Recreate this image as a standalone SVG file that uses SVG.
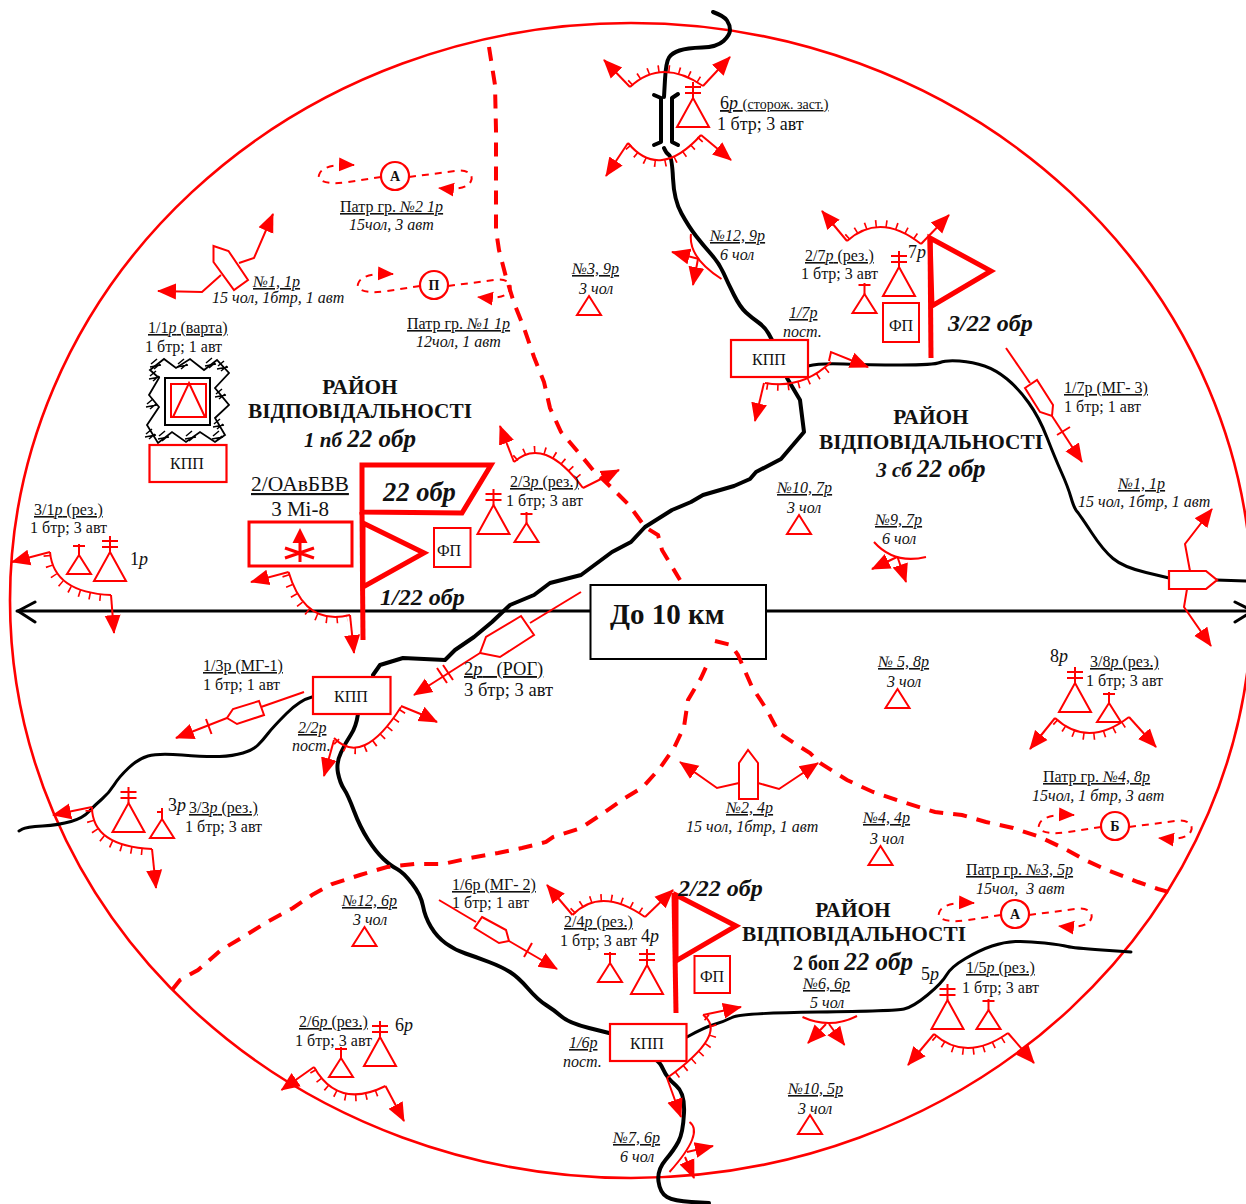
<svg xmlns="http://www.w3.org/2000/svg" width="1246" height="1204" viewBox="0 0 1246 1204">
<style>
text{font-family:"Liberation Serif","Times New Roman",serif;font-size:16px;fill:#111}
.i{font-style:italic}
.u{text-decoration:underline}
.l{font-size:18px}
.h{font-weight:bold;font-size:21.3px}
.b{font-weight:bold;font-style:italic;font-size:24px}
.m{text-anchor:middle}
.s{fill:none;stroke:#f00;stroke-width:2;stroke-linejoin:miter}
.w{fill:#fff;stroke:#f00;stroke-width:2.2}
.a{fill:none;stroke:#f00;stroke-width:2;marker-end:url(#ah)}
.f{fill:none;stroke:#f00;stroke-width:5;stroke-linejoin:miter}
.d{fill:none;stroke:#f00;stroke-width:4;stroke-dasharray:14 10}
.dp{fill:none;stroke:#f00;stroke-width:2;stroke-dasharray:7 6;marker-end:url(#ap)}
.t{fill:none;stroke:#f00;stroke-width:7;stroke-dasharray:1.6 9}
.r{fill:none;stroke:#000;stroke-width:3;stroke-linejoin:round;stroke-linecap:round}
.R{fill:none;stroke:#000;stroke-width:4;stroke-linejoin:round;stroke-linecap:round}
.k{fill:none;stroke:#000;stroke-width:2}
.pl{font-weight:bold;font-size:14px;text-anchor:middle}
</style>
<defs>
<marker id="ah" markerUnits="userSpaceOnUse" markerWidth="20" markerHeight="18" refX="18" refY="9" orient="auto"><polygon points="0,1 19,9 0,17" fill="#f00"/></marker>
<marker id="ap" markerUnits="userSpaceOnUse" markerWidth="17" markerHeight="16" refX="15" refY="8" orient="auto"><polygon points="0,1 16,8 0,15" fill="#f00"/></marker>
<g id="tb"><polygon class="s" points="0,0 16,29 -16,29"/><path class="s" d="M0,0V-16M-8,-11H8M-8,-5H8"/></g>
<g id="ts"><polygon class="s" points="0,0 12,19 -12,19"/><path class="s" d="M0,0V-11M-6,-9H6"/></g>
<polygon id="tri" class="s" points="0,0 12,19 -12,19"/>
<g id="patrol"><circle class="w" r="14"/><path class="dp" d="M-14,1L-47,6C-65,9 -78,6 -76,-1C-74,-8 -65,-12 -41,-11"/><path class="dp" d="M14,1L60,-5C72,-7 79,-2 76,5C73,12 62,14 44,12"/></g>
<path id="wt" class="k" d="M-5,-1L1,-6M-2,4L4,-1M-6,2L5,0" style="stroke-width:1.5"/>
</defs>
<ellipse cx="631" cy="600.5" rx="621" ry="577.5" fill="none" stroke="#f00" stroke-width="2.6"/>
<g id="connectors">
<path class="r" d="M17,611H590M766,611H1246"/>
<path class="r" d="M35,602L18,611L35,622M1235,602L1253,611L1235,622"/>
<path class="R" d="M713,12Q724,16 727,20.500T730,30T723.500,41T702,47.500T679.500,50.500T669,57.500T665,79.500L664,97"/>
<path class="R" d="M654,95L661,98V142L654,145M678,94L672,98V142L678,145"/>
<path class="R" d="M664,148Q666,153 669,155T673,178.500T681.500,213.500T696,236T711,254T723.500,273T734,295T746,312.500T758.500,322.500T768.500,333.500L772,340"/>
<path class="R" d="M787,378L800,400L804,432L781,459L756,472L750,479L734,486L703,495L691,502L672,510L645,527L631,542L612,552L581,575L550,583L534,595L510,605L492,622L474,637L455,650L445,660L403,658L380,665L373,675"/>
<path class="r" d="M312,697Q300,700 286.500,713.500T268,733.500T258,745T243,753T219.500,756.500T182,755T148,756T128.500,768T114,785T102,799T89,811.500T71,821.500T42.500,826T22.500,829L19,831"/>
<path class="R" d="M358,714Q356,727 351,734.500T341,752.500T338,773T344,789T354,811T368,839.500T383.500,859T397,869T412,883.500T423,906T431,927T446,943.500T465.500,953.500T489,962T510,972T528,988.500T546,1005T561.500,1016.500T589,1028L609,1033"/>
<path class="r" d="M687,1037Q705,1027 714,1024.500T732,1017.500T818,1012T904,1009T927.500,995T946.500,975T965.500,958.500T992,946T1015.500,941.500T1044.500,943T1067.500,946.500T1102,950L1131,952"/>
<path class="R" d="M655,1059Q660,1062 663.500,1070T676,1085.500T684,1113T678.500,1141.500T665.500,1160T658.500,1181.500T667,1197T691.500,1202L709,1203"/>
<path class="r" d="M808,366Q820,363 844,364T901,365T940,362.500T959.500,361T984.500,366T1007,379T1028.500,402.500T1047,437.500T1061.500,472.500T1071,497.500T1077,511.500T1091.500,532.500T1113,558.500T1146,572.500L1169,578M1216,580L1246,581"/>
<path class="d" d="M489,47L495,85L496,130V230L499,250L506,277L514,303L524,328L534,357L544,382L550,408L561,432L579,453L593,470L612,488L629,505L645,527L658,535L662,550L680,580"/>
<path class="d" d="M172,990L180,980L198,970L221,950L243,937L267,922L293,908L312,895L332,884L360,875L387,867L415,864L443,864L470,858L498,853L522,848L546,842L553,837L581,828L605,812L625,798L643,787L660,768L674,748L684,727L688,700L701,678L713,652L715,641"/>
</g>
<g id="box"><rect x="590.500" y="585" width="175.500" height="74" fill="#fff" stroke="#000" stroke-width="2"/><text x="610" y="624" style="font-size:29px;font-weight:bold">До 10 км</text></g>
<path class="d" d="M715,641L731,645L738,655L752,687L767,710L779,733L794,743L810,753L820,763L847,780L873,792L906,803L935,812L962,815L986,822L1013,828L1040,837L1067,850L1085,860L1107,870L1138,882L1158,889L1169,892"/>

<g id="pat-a1"><use href="#patrol" x="395" y="176"/><text class="pl" x="395" y="181">А</text><text class="u" x="340" y="212">Патр гр. <tspan class="i">№2 1р</tspan></text><text class="i" x="349" y="230">15чол, 3 авт</text></g>
<g id="pat-p"><use href="#patrol" x="434" y="285"/><text class="pl" x="434" y="290">П</text><text class="u" x="407" y="329">Патр гр. <tspan class="i">№1 1р</tspan></text><text class="i" x="416" y="347">12чол, 1 авт</text></g>
<g id="pat-b"><use href="#patrol" x="1115" y="826"/><text class="pl" x="1115" y="831">Б</text><text class="u" x="1043" y="782">Патр гр. <tspan class="i">№4, 8р</tspan></text><text class="i" x="1032" y="801">15чол, 1 бтр, 3 авт</text></g>
<g id="pat-a2"><use href="#patrol" x="1015" y="914"/><text class="pl" x="1015" y="919">А</text><text class="u" x="966" y="875">Патр гр. <tspan class="i">№3, 5р</tspan></text><text class="i" x="976" y="894" xml:space="preserve">15чол,  3 авт</text></g>

<g id="bridge-6r">
<path class="s" d="M630,87Q661.500,57.500 703,86"/><path class="t" transform="translate(0,-3.500)" d="M630,87Q661.500,57.500 703,86"/>
<path class="s" d="M628,143Q659.500,181 701,135"/><path class="t" transform="translate(0,3.500)" d="M628,143Q659.500,181 701,135"/>
<path class="a" d="M630,87L604,60"/><path class="a" d="M703,86L730,57"/><path class="a" d="M628,143L606,176"/><path class="a" d="M701,135L731,160"/>
<use href="#tb" x="693" y="98"/>
<text class="u l" x="720" y="109">6<tspan class="i">р</tspan> <tspan style="font-size:15px">(</tspan><tspan style="font-size:14px">сторож. заст.</tspan><tspan style="font-size:15px">)</tspan></text><text class="l" x="717" y="130">1 бтр; 3 авт</text>
</g>
<g id="post-1-1r"><polygon class="s" points="213.500,246 228.500,251 248,280 234,290 213.500,262"/><path class="a" d="M239,263L254,258L273,214"/><path class="a" d="M221,275L202,292L158,291"/><text class="i u" x="253" y="287">№1, 1р</text><text class="i" x="212" y="303">15 чол, 1бтр, 1 авт</text></g>
<g id="guard-1-1r">
<text class="u" x="148" y="333"> 1/1<tspan class="i">р</tspan> (варта)</text><text x="145" y="352">1 бтр; 1 авт</text>
<path class="k" style="stroke-width:1.8" d="M150,370L164,359L176,368L190,359L204,370L217,360L229,373L215,388L229,405L215,418L225,435L215,442L200,432L186,442L172,432L158,443L147,425L159,407L149,395L159,378Z"/>
<use href="#wt" x="156" y="365"/><use href="#wt" x="183" y="365"/><use href="#wt" x="211" y="364"/><use href="#wt" x="223" y="367"/><use href="#wt" x="155" y="377"/><use href="#wt" x="152" y="405"/><use href="#wt" x="221" y="395"/><use href="#wt" x="219" y="425"/><use href="#wt" x="151" y="435"/><use href="#wt" x="164" y="437"/><use href="#wt" x="191" y="437"/><use href="#wt" x="218" y="437"/>
<rect x="165" y="378" width="45" height="47" class="k"/><rect x="171" y="384" width="35" height="33" class="s"/><polygon class="s" points="189,383 205,417 173,417"/>
</g>
<g id="kpp-1r"><rect class="w" x="149.500" y="445" width="77" height="37"/><text class="m" x="187" y="469">КПП</text></g>
<g id="area-1"><text class="h m" x="360" y="394">РАЙОН</text><text class="h m" x="360" y="418">ВІДПОВІДАЛЬНОСТІ</text><text class="m" x="360" y="447" style="font-weight:bold;font-style:italic;font-size:21px">1 пб <tspan style="font-size:25px">22 обр</tspan></text></g>
<g id="heli"><text class="u" x="251" y="491" style="font-size:21.5px">2/ОАвБВВ</text><text class="m" x="300" y="516" style="font-size:21px">3 Mi-8</text><rect x="249" y="522" width="103" height="44" fill="none" stroke="#f00" stroke-width="3"/><polygon points="300,528 307.500,543 292.500,543" fill="#f00"/><path d="M300,543V562M285,548L314,558M285,558L314,548" fill="none" stroke="#f00" stroke-width="3"/></g>
<g id="hq-22"><polygon class="f" points="362,465 491,465 462,513 362,512"/><text class="b" x="383" y="501" style="font-size:26.500px">22 обр</text></g>
<g id="flag-1-22"><path class="f" d="M362,512L363,640"/><polygon class="f" points="363,523 424,553 363,587"/><text class="b" x="380" y="605">1/22 обр</text><rect class="s" x="434" y="528" width="36.500" height="39"/><text class="m" x="449" y="556">ФП</text></g>
<g id="sector-oav"><path class="s" d="M288.600,572Q304.700,626.500 350,615"/><path class="t" transform="translate(-3,3)" d="M288.600,572Q304.700,626.500 350,615"/><path class="a" d="M288.600,572L251,582"/><path class="a" d="M350,615L354,653"/></g>
<g id="res-2-3r"><path class="s" d="M514,462Q543.500,435 583,488"/><path class="t" transform="translate(1,-3.500)" d="M514,462Q543.500,435 583,488"/><path class="a" d="M514,462L500,426"/><path class="a" d="M583,488L605,477L619,470"/><use href="#tb" x="493.500" y="505"/><use href="#ts" x="526.500" y="523"/><text class="u" x="510" y="487">2/3<tspan class="i">р</tspan> (рез.)</text><text x="506" y="506">1 бтр; 3 авт</text></g>
<g id="res-3-1r"><path class="s" d="M50,552Q53.500,592.500 111,595"/><path class="t" transform="translate(-3,3)" d="M50,552Q53.500,592.500 111,595"/><path class="a" d="M50,552L12,562"/><path class="a" d="M111,595L114,633"/><use href="#ts" x="79" y="555"/><use href="#tb" x="110" y="552"/><text class="l" x="130" y="565">1<tspan class="i">р</tspan></text><text class="u" x="34" y="515">3/1<tspan class="i">р</tspan> (рез.)</text><text x="30" y="533">1 бтр; 3 авт</text></g>
<g id="kpp-3r"><rect class="w" x="313" y="677" width="77.500" height="37"/><text class="m" x="351" y="702">КПП</text><path class="s" d="M334,738Q362.500,767.500 401,707"/><path class="t" transform="translate(2,3)" d="M334,738Q362.500,767.500 401,707"/><path class="a" d="M401,706L423,715L437,722"/><path class="a" d="M334,740L324,776"/><text class="i u" x="298" y="733">2/2р</text><text class="i" x="292" y="751">пост.</text></g>
<g id="mg-1"><text class="u" x="203" y="671">1/3р (МГ-1)</text><text x="203" y="690">1 бтр; 1 авт</text><path class="s" d="M304,692L261,707"/><polygon class="s" points="259,701 264,715 237,724 227,718 233,709"/><path class="a" d="M227,718L176,738"/><path class="s" d="M206,719L211.500,734"/></g>
<g id="rog-2r"><path class="s" d="M581,592L530,623"/><polygon class="s" points="521,616 534,635 500,657 480,653 486,637"/><path class="a" d="M480,653L414,695"/><path class="s" d="M437,668L447,683M443,665L453,680"/><text class="u" x="464" y="675" style="font-size:18.500px" xml:space="preserve">2<tspan class="i">р</tspan>   (РОГ)</text><text x="464" y="696" style="font-size:18.500px">3 бтр; 3 авт</text></g>
<g id="res-3-3r"><path class="s" d="M92,807Q92,846 152,849"/><path class="t" transform="translate(-3,3)" d="M92,807Q92,846 152,849"/><path class="a" d="M92,807L53,815"/><path class="a" d="M152,849L156,888"/><use href="#tb" x="128.500" y="803"/><polygon class="s" points="162,819 174,838 150,838"/><path class="s" d="M162,819V808M157,812H162"/><text class="l" x="168" y="811">3<tspan class="i">р</tspan></text><text class="u" x="189" y="813">3/3<tspan class="i">р</tspan> (рез.)</text><text x="185" y="832">1 бтр; 3 авт</text></g>
<g id="o12-6r"><text class="i u" x="342" y="906">№12, 6р</text><text class="i m" x="370" y="925">3 чол</text><use href="#tri" x="364.500" y="927"/></g>
<g id="mg-2"><text class="u" x="452" y="890">1/6р (МГ- 2)</text><text x="452" y="908">1 бтр; 1 авт</text><path class="s" d="M439,900L476,922"/><polygon class="s" points="482,917 506,930 509,941 499,943 474.500,928"/><path class="a" d="M509,941L557,969"/><path class="s" d="M532,943L524,957"/></g>
<g id="res-2-6r"><path class="s" d="M314,1067Q338,1109.500 385.500,1086"/><path class="t" transform="translate(-1,3.500)" d="M314,1067Q338,1109.500 385.500,1086"/><path class="a" d="M314,1067L281.500,1090"/><path class="a" d="M385.500,1086L404,1121"/><use href="#tb" x="380" y="1037"/><use href="#ts" x="341" y="1058"/><text class="u" x="299" y="1027">2/6<tspan class="i">р</tspan> (рез.)</text><text x="295" y="1046">1 бтр; 3 авт</text><text class="l" x="395" y="1031">6<tspan class="i">р</tspan></text></g>
<g id="post-2-4r"><polygon class="s" points="739,763 748,750 758,763 758,799 739,799"/><path class="a" d="M739,783L717,788L680,762"/><path class="a" d="M758,783L779,789L818,763"/><text class="i u" x="726" y="813">№2, 4р</text><text class="i" x="686" y="832">15 чол, 1бтр, 1 авт</text></g>
<g id="o4-4r"><text class="i u" x="863" y="823">№4, 4р</text><text class="i" x="870" y="844">3 чол</text><use href="#tri" x="880.500" y="846"/></g>
<g id="flag-2-22"><path class="f" d="M674,893L676,1013"/><polygon class="f" points="676,895 736,926 676,961"/><text class="b" x="678" y="896">2/22 обр</text><rect class="s" x="694.500" y="956" width="35.500" height="37"/><text class="m" x="712" y="982">ФП</text></g>
<g id="res-2-4r"><path class="s" d="M572.500,915Q601,886 645,917"/><path class="t" transform="translate(0,-3.500)" d="M572.500,915Q601,886 645,917"/><path class="a" d="M572.500,915L547,885"/><path class="a" d="M645,917L673,890"/><text class="u" x="564" y="927">2/4<tspan class="i">р</tspan> (рез.)</text><text x="560" y="946">1 бтр; 3 авт</text><text class="l" x="641" y="942">4<tspan class="i">р</tspan></text><use href="#ts" x="610" y="963"/><use href="#tb" x="647" y="965"/></g>
<g id="area-2"><text class="h m" x="853" y="917">РАЙОН</text><text class="h m" x="854" y="941">ВІДПОВІДАЛЬНОСТІ</text><text x="793" y="970" style="font-weight:bold;font-size:20px">2 боп <tspan class="i" style="font-size:25px">22 обр</tspan></text></g>
<g id="kpp-6r"><rect class="w" x="610" y="1024" width="76.500" height="37"/><text class="m" x="647" y="1049">КПП</text><path class="s" d="M703,1015Q729,1033.500 667,1078"/><path class="t" transform="translate(3,2)" d="M703,1015Q729,1033.500 667,1078"/><path class="a" d="M703,1015L741,1007"/><path class="a" d="M667,1078L681,1117"/><text class="i u" x="569" y="1048">1/6р</text><text class="i" x="563" y="1067">пост.</text></g>
<g id="o7-6r"><path class="s" d="M689.500,1122Q704.500,1133 669.500,1172"/><path class="a" d="M687,1152L713,1146"/><path class="a" d="M685,1157L694,1178"/><text class="i u" x="613" y="1143">№7, 6р</text><text class="i" x="620" y="1162">6 чол</text></g>
<g id="o10-5r"><text class="i u" x="788" y="1094">№10, 5р</text><text class="i" x="798" y="1114">3 чол</text><use href="#tri" x="810" y="1115"/></g>
<g id="o6-6r"><path class="s" d="M802.500,1017Q830,1029.500 857,1016"/><path class="a" d="M826,1024L808,1043"/><path class="a" d="M829,1024L844.500,1045"/><text class="i u" x="803" y="989">№6, 6р</text><text class="i" x="810" y="1008">5 чол</text></g>
<g id="res-1-5r"><path class="s" d="M934,1034Q966,1062.500 1008,1033"/><path class="t" transform="translate(0,3.500)" d="M934,1034Q966,1062.500 1008,1033"/><path class="a" d="M934,1034L908,1065"/><path class="a" d="M1008,1033L1034,1063"/><use href="#tb" x="947.500" y="1000"/><use href="#ts" x="988.500" y="1010"/><text class="l" x="921" y="980">5<tspan class="i">р</tspan></text><text class="u" x="966" y="973">1/5<tspan class="i">р</tspan> (рез.)</text><text x="962" y="993">1 бтр; 3 авт</text></g>
<g id="res-3-8r"><path class="s" d="M1055,718Q1088,748.500 1129,717"/><path class="t" transform="translate(0,3.500)" d="M1055,718Q1088,748.500 1129,717"/><path class="a" d="M1055,718L1030,749"/><path class="a" d="M1129,717L1156,747"/><use href="#tb" x="1075" y="683"/><use href="#ts" x="1109" y="703"/><text class="l" x="1050" y="662">8<tspan class="i">р</tspan></text><text class="u" x="1090" y="667">3/8<tspan class="i">р</tspan> (рез.)</text><text x="1086" y="686">1 бтр; 3 авт</text></g>
<g id="o5-8r"><text class="i u" x="878" y="667">№ 5, 8р</text><text class="i" x="887" y="687">3 чол</text><use href="#tri" x="897.500" y="689"/></g>
<g id="o9-7r"><path class="s" d="M874,542Q894,564.500 926,557"/><path class="a" d="M897,557L872,569"/><path class="a" d="M897.500,557L906,582"/><text class="i u" x="875" y="525">№9, 7р</text><text class="i" x="882" y="544">6 чол</text></g>
<g id="o10-7r"><text class="i u" x="777" y="493">№10, 7р</text><text class="i" x="787" y="513">3 чол</text><use href="#tri" x="799" y="515"/></g>
<g id="area-3"><text class="h m" x="931" y="424">РАЙОН</text><text class="h m" x="931" y="449">ВІДПОВІДАЛЬНОСТІ</text><text class="m" x="931" y="477" style="font-weight:bold;font-style:italic;font-size:21px">3 сб <tspan style="font-size:25px">22 обр</tspan></text></g>
<g id="post-1-1r-e"><polygon class="w" points="1169,571 1206,571 1217,580 1206,589 1169,589"/><path class="a" d="M1190,571L1185,544L1212,509"/><path class="a" d="M1187,589L1184,607L1211,646"/><text class="i u" x="1118" y="489">№1, 1р</text><text class="i" x="1078" y="507">15 чол, 1бтр, 1 авт</text></g>
<g id="mg-3"><path class="s" d="M1006,348L1030,383"/><polygon class="s" points="1025,388 1037,380 1053,405 1052,416 1040,412"/><path class="a" d="M1052,416L1082,462"/><path class="s" d="M1057,435L1070,427"/><text class="u" x="1064" y="393">1/7р (МГ- 3)</text><text x="1064" y="412">1 бтр; 1 авт</text></g>
<g id="flag-3-22"><path class="s" d="M847,241Q880,211.500 921,244"/><path class="t" transform="translate(0,-3.500)" d="M847,241Q880,211.500 921,244"/><path class="a" d="M847,241L822,211"/><path class="a" d="M921,244L949,215"/><path class="f" d="M930,238L931,358"/><polygon class="f" points="930,238 991,271 932,306"/><text class="l" x="908" y="258">7<tspan class="i">р</tspan></text><text class="u" x="805" y="261">2/7<tspan class="i">р</tspan> (рез.)</text><text x="801" y="279">1 бтр; 3 авт</text><use href="#tb" x="899" y="267"/><use href="#ts" x="864.500" y="294"/><rect class="s" x="883" y="303" width="36" height="39"/><text class="m" x="901" y="331">ФП</text><text class="b" x="948" y="331">3/22 обр</text></g>
<g id="kpp-7r"><rect class="w" x="731" y="340" width="77" height="37"/><text class="m" x="769" y="365">КПП</text><path class="s" d="M765,383Q802,389.500 831,362"/><path class="t" transform="translate(1.500,3)" d="M765,383Q802,389.500 831,362"/><path class="a" d="M764,383L755,421"/><path class="a" d="M829,361L831,352L868,367"/><text class="i u" x="789" y="318">1/7р</text><text class="i" x="783" y="337">пост.</text></g>
<g id="o12-9r"><path class="s" d="M691,234Q688,257.500 721.500,279"/><path class="a" d="M699,259L672,252"/><path class="a" d="M698,259L693,285"/><text class="i u" x="710" y="241">№12, 9р</text><text class="i" x="720" y="260">6 чол</text></g>
<g id="o3-9r"><text class="i u" x="572" y="274">№3, 9р</text><text class="i" x="579" y="294">3 чол</text><use href="#tri" x="589" y="296"/></g>
</svg>
